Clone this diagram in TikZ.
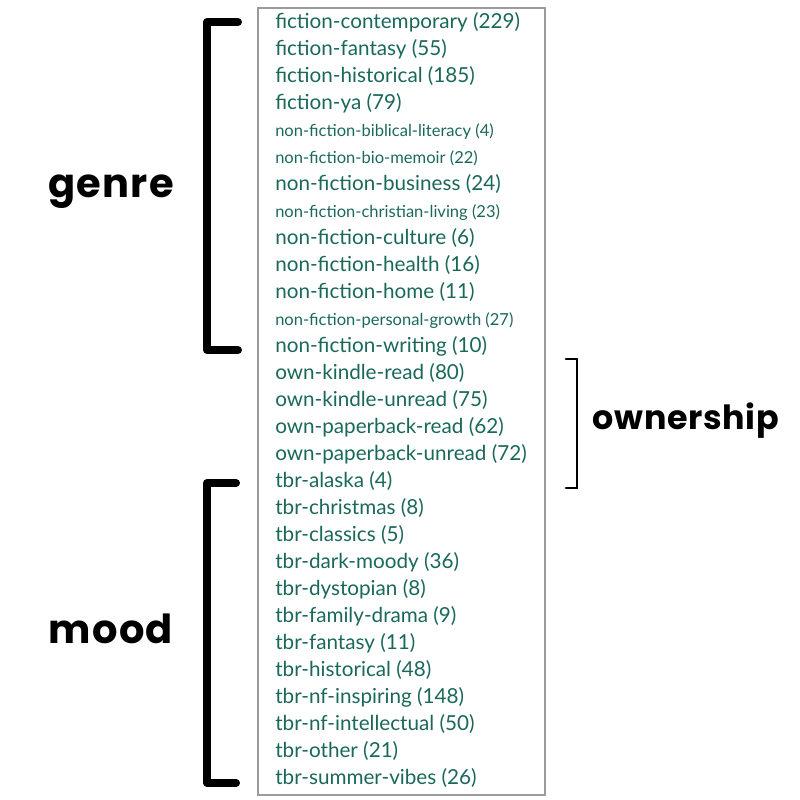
\documentclass[tikz,border=0pt]{standalone}
\usepackage{fontspec}
\setmainfont{Lato}
\newfontfamily\groupfont{Poppins}[LetterSpace=3]
\newfontfamily\ownfont{Poppins}[LetterSpace=2]
\usetikzlibrary{positioning}
\definecolor{taggreen}{RGB}{26,104,90}
\definecolor{boxgray}{RGB}{155,155,155}
\tikzset{
  tag/.style={anchor=base west,inner sep=0pt,text=taggreen,font=\fontsize{15.5}{16}\selectfont},
  smalltag/.style={tag,font=\fontsize{12.4}{13}\selectfont},
  group/.style={anchor=base,inner sep=0pt,font=\groupfont\bfseries\fontsize{30}{30}\selectfont},
  bigbrace/.style={line width=6pt,line cap=round,line join=round},
  thinbrace/.style={line width=2.2pt,line cap=round}
}

\begin{document}
\begin{tikzpicture}[x=0.75pt,y=-0.75pt]
\useasboundingbox (0,0) rectangle (800,800);
% list frame
\coordinate (boxtl) at (258,8);
\coordinate (boxbr) at (545,795);
\draw[boxgray,line width=1.7pt] (boxtl) rectangle (boxbr);
% tags
\foreach [count=\i] \txt/\sty in {
  fiction-contemporary (229)/tag,
  fiction-fantasy (55)/tag,
  fiction-historical (185)/tag,
  fiction-ya (79)/tag,
  non-fiction-biblical-literacy (4)/smalltag,
  non-fiction-bio-memoir (22)/smalltag,
  non-fiction-business (24)/tag,
  non-fiction-christian-living (23)/smalltag,
  non-fiction-culture (6)/tag,
  non-fiction-health (16)/tag,
  non-fiction-home (11)/tag,
  non-fiction-personal-growth (27)/smalltag,
  non-fiction-writing (10)/tag,
  own-kindle-read (80)/tag,
  own-kindle-unread (75)/tag,
  own-paperback-read (62)/tag,
  own-paperback-unread (72)/tag,
  tbr-alaska (4)/tag,
  tbr-christmas (8)/tag,
  tbr-classics (5)/tag,
  tbr-dark-moody (36)/tag,
  tbr-dystopian (8)/tag,
  tbr-family-drama (9)/tag,
  tbr-fantasy (11)/tag,
  tbr-historical (48)/tag,
  tbr-nf-inspiring (148)/tag,
  tbr-nf-intellectual (50)/tag,
  tbr-other (21)/tag,
  tbr-summer-vibes (26)/tag}
  \node[\sty] (t\i) at (275,{28+27*(\i-1)}) {\txt};
% brackets
\coordinate (gtop) at (238,22);
\coordinate (gbot) at (238,350);
\draw[bigbrace] (gtop) -- (207,22) -- (207,350) -- (gbot);
\coordinate (mtop) at (236,483);
\coordinate (mbot) at (236,783);
\draw[bigbrace] (mtop) -- (207,483) -- (207,783) -- (mbot);
\coordinate (otop) at (566,359);
\coordinate (obot) at (566,488);
\draw[thinbrace] (otop) -- (577,359) -- (577,488) -- (obot);
% group labels
\node[group] (genre) at (111,197) {genre};
\node[group] (mood) at (111,643) {mood};
\node[group,font=\ownfont\bfseries\fontsize{25}{25}\selectfont] (ownership) at (686,429) {ownership};
\end{tikzpicture}
\end{document}
